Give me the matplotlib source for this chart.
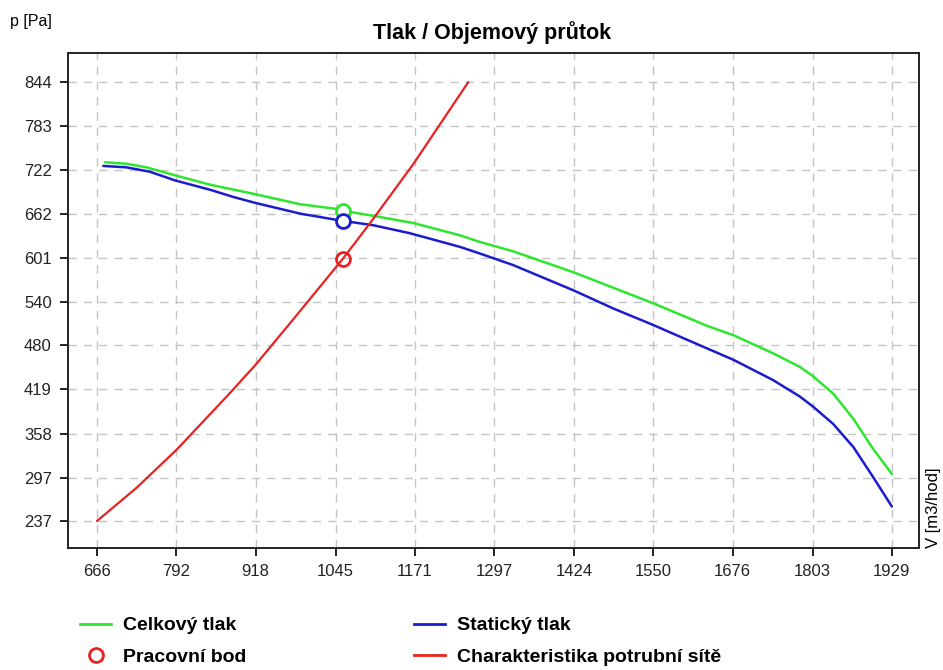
import numpy as np
import matplotlib
matplotlib.use("Agg")
import matplotlib.pyplot as plt
from matplotlib.lines import Line2D

plt.rcParams["font.family"] = ["Liberation Sans", "DejaVu Sans"]

# values
x_ticks = [666, 792, 918, 1045, 1171, 1297, 1424, 1550, 1676, 1803, 1929]
y_ticks = [237, 297, 358, 419, 480, 540, 601, 662, 722, 783, 844]

# Celkovy tlak (total pressure)
celk_v = [679, 713, 745, 790, 846, 917, 989, 1043, 1057, 1105, 1169, 1243,
          1274, 1327, 1423, 1550, 1635, 1677, 1740, 1783, 1804, 1836, 1868,
          1899, 1929]
celk_p = [733, 731, 726, 715, 702, 689, 675, 669, 666, 659, 649, 632,
          623, 610, 581, 538, 507, 494, 469, 450, 437, 413, 378, 337, 302]

# Staticky tlak (static pressure)
stat_v = [676, 713, 750, 790, 846, 883, 917, 989, 1043, 1057, 1105, 1163,
          1243, 1274, 1327, 1423, 1486, 1550, 1592, 1677, 1740, 1783, 1804,
          1836, 1868, 1899, 1929]
stat_p = [728, 726, 720, 708, 695, 685, 677, 662, 654, 652, 646, 635,
          616, 607, 591, 556, 531, 508, 492, 460, 432, 409, 395, 371, 339,
          298, 257]

# Charakteristika potrubni site (system curve)
sys_v = [666, 729, 793, 872, 917, 978, 1041, 1057, 1100, 1169, 1256]
sys_p = [237, 283, 336, 409, 452, 516, 583, 600, 649, 731, 844]

# Pracovni bod (working point)
wp_v = 1057
wp_total = 666
wp_static = 652
wp_sys = 600

green = "#2ee62e"
blue = "#1c1ccf"
red = "#e82222"

fig = plt.figure(figsize=(9.43, 6.70), dpi=100)
ax = fig.add_axes([0.0718, 0.1821, 0.9027, 0.7383])

ax.plot(celk_v, celk_p, color=green, lw=1.8, solid_capstyle="round")
ax.plot(stat_v, stat_p, color=blue, lw=1.8, solid_capstyle="round")
ax.plot(sys_v, sys_p, color=red, lw=1.6, solid_capstyle="round")

ms = 10
ax.plot([wp_v], [wp_total], "o", mfc="white", mec=green, mew=2, ms=ms)
ax.plot([wp_v], [wp_static], "o", mfc="white", mec=blue, mew=2, ms=ms)
ax.plot([wp_v], [wp_sys], "o", mfc="none", mec=red, mew=2, ms=ms)

ax.set_xlim(619.5, 1972)
ax.set_ylim(199.7, 883.7)
ax.set_xticks(x_ticks)
ax.set_xticklabels([str(v) for v in x_ticks])
ax.set_yticks(y_ticks)
ax.set_yticklabels([str(v) for v in y_ticks])

ax.grid(True, color="#c4c4c4", linestyle=(0, (6, 5)), linewidth=1)
ax.tick_params(direction="out", length=5.5, width=1.2, labelsize=12,
               labelcolor="#222222", pad=6)
for s in ax.spines.values():
    s.set_linewidth(1.4)
    s.set_color("#222222")

fig.text(0.5223, 0.952, "Tlak / Objemový průtok", ha="center", va="center",
         fontsize=15.5, fontweight="bold")
fig.text(0.011, 0.968, "p [Pa]", ha="left", va="center", fontsize=11.5)
fig.text(0.990, 0.1821, "V [m3/hod]", ha="center", va="bottom", rotation=90,
         fontsize=12)

handles = [
    Line2D([], [], color=green, lw=2),
    Line2D([], [], ls="none", marker="o", mfc="none", mec=red, mew=2, ms=10),
    Line2D([], [], color=blue, lw=2),
    Line2D([], [], color=red, lw=2),
]
labels = ["Celkový tlak", "Pracovní bod", "Statický tlak",
          "Charakteristika potrubní sítě"]
fig.legend(handles, labels, loc="center left", bbox_to_anchor=(0.0848, 0.0425),
           ncol=2, frameon=False, handlelength=1.6, handletextpad=0.62,
           columnspacing=8.6, labelspacing=0.73, borderpad=0,
           borderaxespad=0, prop={"weight": "bold", "size": 14})

fig.savefig("out.png", dpi=100)
